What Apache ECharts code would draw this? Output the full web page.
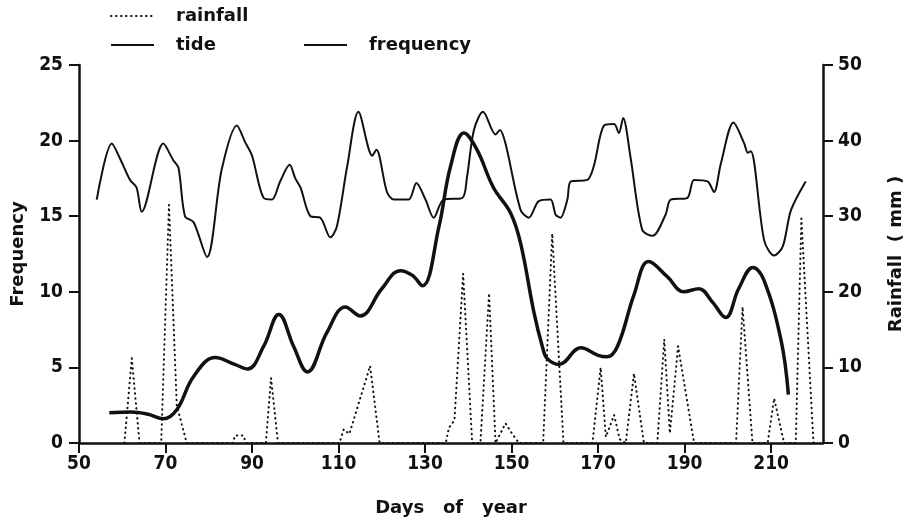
<!DOCTYPE html>
<html>
<head>
<meta charset="utf-8">
<script src="https://cdn.jsdelivr.net/npm/echarts@6/dist/echarts.min.js"></script>
<style>
  html, body { margin: 0; padding: 0; background: #fff; }
  #chart { width: 913px; height: 526px; }
</style>
</head>
<body>
<div id="chart"></div>
<script>
// values
var freqDays = [57, 62, 66, 69.5, 72.6, 76.5, 81.5, 86, 89, 92.7, 96.2, 99.6, 102.8, 107.3, 111.6, 115, 120, 124.3, 127, 129.4, 133.2, 135.9, 139, 142, 145.8, 149.8, 152.1, 155.2, 157.1, 158.2, 161, 166, 170, 172, 174.5, 178.3, 181.7, 186, 189.8, 193.3, 196.5, 199.5, 202.5, 205.8, 208.3, 212.3, 214];
var freqValues = [2.0, 2.05, 1.9, 1.6, 2.2, 4.4, 5.65, 5.2, 4.9, 6.4, 8.5, 6.4, 4.7, 7.3, 9.0, 8.4, 10.2, 11.4, 11.1, 10.4, 14.3, 18.3, 20.5, 19.4, 16.9, 15.2, 13.2, 8.6, 6.4, 5.6, 5.2, 6.3, 5.8, 5.7, 6.4, 9.8, 12.0, 11.0, 10.0, 10.2, 9.3, 8.3, 10.2, 11.6, 10.8, 6.8, 3.2];

var tideDays = [54.1, 57.6, 59.5, 61.8, 63.3, 64.5, 69.5, 71.8, 73, 74.5, 76.5, 79.6, 83, 86.5, 88.4, 90, 92.7, 94.6, 96.5, 98.7, 100, 101.2, 103.5, 105.8, 108.1, 109.6, 112, 114.6, 117.8, 118.75, 121.2, 122.8, 126.2, 128, 130.1, 132, 134.3, 138.6, 139.7, 141.3, 143.4, 146.3, 147.3, 148.6, 152.1, 154, 156.3, 159, 160.2, 161.3, 162.9, 163.7, 167.5, 169, 171.4, 173.7, 174.8, 175.8, 177.5, 180.2, 182.6, 185.6, 186.8, 190.6, 192.2, 195.3, 196.8, 198.4, 201.3, 203.8, 204.6, 205.3, 208.4, 210.7, 212.7, 214.6, 218];
var tideValues = [16.1, 19.8, 18.8, 17.4, 16.9, 15.3, 19.8, 18.7, 18.2, 15.0, 14.6, 12.3, 18.1, 21.0, 19.9, 19.0, 16.2, 16.1, 17.3, 18.4, 17.5, 16.9, 15.0, 14.9, 13.6, 14.3, 18.3, 21.9, 19.0, 19.4, 16.6, 16.1, 16.1, 17.2, 16.1, 14.9, 16.1, 16.2, 17.6, 20.7, 21.9, 20.4, 20.7, 19.8, 15.4, 14.9, 16.0, 16.1, 15.1, 14.9, 16.1, 17.3, 17.4, 18.3, 21.0, 21.1, 20.5, 21.5, 18.9, 14.1, 13.7, 15.1, 16.1, 16.2, 17.4, 17.3, 16.6, 18.5, 21.2, 19.8, 19.2, 19.3, 13.4, 12.4, 13.0, 15.4, 17.3];

var rainDays = [60.5, 62.2, 64, 69, 70.8, 72.6, 74.9, 85.5, 86.1, 88, 88.6, 93.2, 94.4, 96, 110.2, 111.2, 112.5, 117.3, 119.5, 134.8, 135.5, 136.8, 138.8, 140.9, 142.8, 144.8, 146.3, 148.6, 149.8, 151.7, 157.3, 159.4, 162, 168.7, 170.6, 171.8, 173.7, 175, 176.4, 178.3, 180.6, 183.7, 185.3, 186.6, 188.5, 192.2, 201.9, 203.4, 205.7, 209.2, 210.7, 213, 215.7, 217, 219.8];
var rainMm = [0, 11.2, 0, 0, 31.5, 5, 0, 0, 1, 1, 0, 0, 8.6, 0, 0, 1.8, 1.2, 10.2, 0, 0, 2, 3, 22.4, 0, 0, 19.8, 0, 2.6, 1.5, 0, 0, 27.7, 0, 0, 10, 0.8, 3.7, 0.5, 0, 9.2, 0, 0, 13.7, 1.3, 12.8, 0, 0, 18, 0, 0, 5.9, 0, 0, 29.7, 0];

function pairs(xs, ys) {
  return xs.map(function (x, i) { return [x, ys[i]]; });
}

var chartDom = document.getElementById('chart');
var myChart = echarts.init(chartDom, null, { renderer: 'canvas' });

var ink = '#111';
var numFont = "'DejaVu Sans Condensed', 'Liberation Sans Narrow', 'DejaVu Sans', sans-serif";
var txtFont = "'DejaVu Sans', sans-serif";

function legendAt(name, left, top) {
  return {
    data: [name],
    left: left,
    top: top,
    itemWidth: 43,
    itemHeight: 14,
    selectedMode: false,
    itemStyle: { opacity: 0 },
    textStyle: { color: ink, fontSize: 18, fontWeight: 'bold', fontFamily: txtFont, padding: [0, 0, 0, 17] }
  };
}

var option = {
  animation: false,
  backgroundColor: '#fff',
  legend: [
    legendAt('rainfall', 105, 2),
    legendAt('tide', 105, 31),
    legendAt('frequency', 298, 31)
  ],
  grid: { left: 79, right: 90, top: 65, bottom: 83 },
  xAxis: {
    type: 'value',
    min: 50,
    max: 222,
    interval: 20,
    name: 'Days   of   year',
    nameLocation: 'middle',
    nameGap: 56,
    nameTextStyle: { color: ink, fontSize: 18, fontWeight: 'bold', fontFamily: txtFont },
    axisLine: { lineStyle: { color: ink, width: 2.5 } },
    axisTick: { length: 10, lineStyle: { color: ink, width: 2 } },
    axisLabel: { color: ink, fontSize: 19, fontWeight: 'bold', fontFamily: numFont, margin: 12, showMaxLabel: false },
    splitLine: { show: false }
  },
  yAxis: [
    {
      type: 'value',
      min: 0,
      max: 25,
      interval: 5,
      position: 'left',
      name: 'Frequency',
      nameLocation: 'middle',
      nameRotate: 90,
      nameGap: 52,
      nameTextStyle: { color: ink, fontSize: 18, fontWeight: 'bold', fontFamily: txtFont },
      axisLine: { show: true, lineStyle: { color: ink, width: 2.5 } },
      axisTick: { show: true, length: 10, lineStyle: { color: ink, width: 2 } },
      axisLabel: { color: ink, fontSize: 19, fontWeight: 'bold', fontFamily: numFont, margin: 16 },
      splitLine: { show: false }
    },
    {
      type: 'value',
      min: 0,
      max: 50,
      interval: 10,
      position: 'right',
      name: 'Rainfall  ( mm )',
      nameLocation: 'middle',
      nameRotate: 90,
      nameGap: 64,
      nameTextStyle: { color: ink, fontSize: 18, fontWeight: 'bold', fontFamily: txtFont },
      axisLine: { show: true, lineStyle: { color: ink, width: 2.5 } },
      axisTick: { show: true, length: 10, lineStyle: { color: ink, width: 2 } },
      axisLabel: { color: ink, fontSize: 19, fontWeight: 'bold', fontFamily: numFont, margin: 15 },
      splitLine: { show: false }
    }
  ],
  series: [
    {
      name: 'rainfall',
      type: 'line',
      yAxisIndex: 1,
      showSymbol: false,
      symbol: 'none',
      itemStyle: { color: ink },
      data: pairs(rainDays, rainMm),
      lineStyle: { color: ink, width: 2, type: [0.5, 4.5], cap: 'round' }
    },
    {
      name: 'tide',
      type: 'line',
      yAxisIndex: 0,
      showSymbol: false,
      symbol: 'none',
      smooth: 0.3,
      itemStyle: { color: ink },
      data: pairs(tideDays, tideValues),
      lineStyle: { color: ink, width: 2 }
    },
    {
      name: 'frequency',
      type: 'line',
      yAxisIndex: 0,
      showSymbol: false,
      symbol: 'none',
      smooth: 0.4,
      itemStyle: { color: ink },
      data: pairs(freqDays, freqValues),
      lineStyle: { color: ink, width: 3.5 }
    }
  ]
};

option && myChart.setOption(option);
</script>
</body>
</html>
